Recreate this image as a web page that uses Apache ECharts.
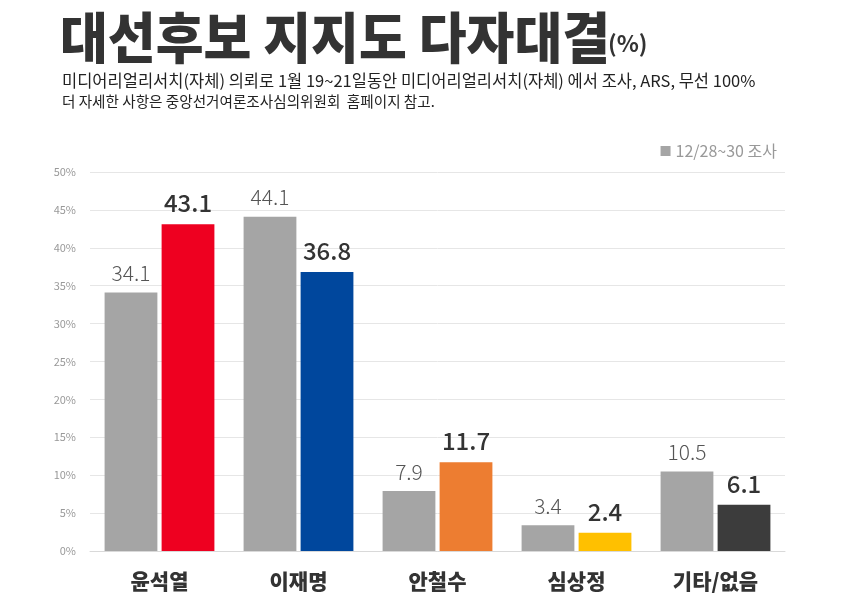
<!DOCTYPE html>
<html>
<head>
<meta charset="utf-8">
<script src="https://cdn.jsdelivr.net/npm/echarts@6/dist/echarts.min.js"></script>
<style>
  html, body { margin: 0; padding: 0; background: #fff; }
  #main { width: 850px; height: 607px; }
</style>
</head>
<body>
<div id="main"></div>
<script>
const FONT = '"Noto Sans CJK KR", "Noto Sans", sans-serif';

// data
const candidates = ['윤석열', '이재명', '안철수', '심상정', '기타/없음'];
const prevValues = [34.1, 44.1, 7.9, 3.4, 10.5];   // 12/28~30 조사
const currValues = [43.1, 36.8, 11.7, 2.4, 6.1];   // 1/19~21 조사
const currColors = ['#EE0020', '#00479D', '#ED7D31', '#FFC000', '#3C3C3C'];
const yTicks = [0, 5, 10, 15, 20, 25, 30, 35, 40, 45, 50];

const chart = echarts.init(document.getElementById('main'));

const option = {
  backgroundColor: '#fff',
  animation: false,
  textStyle: { fontFamily: FONT },
  graphic: [
    {
      type: 'text', left: 60, top: 9, scaleY: 1.06,
      style: { text: '대선후보 지지도 다자대결', font: '900 52px ' + FONT, fill: '#333' }
    },
    {
      type: 'text', left: 608, top: 32,
      style: { text: '(%)', font: '700 23px ' + FONT, fill: '#333' }
    },
    {
      type: 'text', left: 62, top: 72,
      style: {
        text: '미디어리얼리서치(자체) 의뢰로 1월 19~21일동안 미디어리얼리서치(자체) 에서 조사, ARS, 무선 100%',
        font: '400 16.5px ' + FONT, fill: '#222'
      }
    },
    {
      type: 'text', left: 62, top: 94,
      style: {
        text: '더 자세한 사항은 중앙선거여론조사심의위원회  홈페이지 참고.',
        font: '400 14.6px ' + FONT, fill: '#222'
      }
    }
  ],
  legend: {
    right: 68, top: 138,
    data: ['12/28~30 조사'],
    icon: 'rect', itemWidth: 10, itemHeight: 10, itemGap: 4,
    textStyle: { color: '#999', fontSize: 16, fontFamily: FONT }
  },
  grid: { left: 90, right: 65, top: 172, bottom: 56 },
  xAxis: {
    type: 'category',
    data: candidates,
    axisLine: { lineStyle: { color: '#d9d9d9' } },
    axisTick: { show: false },
    axisLabel: { color: '#333', fontSize: 21, fontWeight: 900, margin: 20, fontFamily: FONT }
  },
  yAxis: {
    type: 'value',
    min: yTicks[0], max: yTicks[yTicks.length - 1], interval: 5,
    axisLine: { show: false },
    axisTick: { show: false },
    splitLine: { lineStyle: { color: '#e6e6e6' } },
    axisLabel: { color: '#999', fontSize: 11, margin: 14, formatter: '{value}%', fontFamily: FONT }
  },
  series: [
    {
      name: '12/28~30 조사',
      type: 'bar',
      data: prevValues,
      itemStyle: { color: '#A5A5A5' },
      barGap: '8%',
      barCategoryGap: '21%',
      label: { show: true, position: 'top', distance: 9, color: '#555', fontSize: 21, fontWeight: 300, fontFamily: FONT }
    },
    {
      name: '1/19~21 조사',
      type: 'bar',
      data: currValues.map((v, i) => ({ value: v, itemStyle: { color: currColors[i] } })),
      label: { show: true, position: 'top', distance: 9, color: '#333', fontSize: 24, fontWeight: 500, fontFamily: FONT }
    }
  ]
};

chart.setOption(option);
</script>
</body>
</html>
